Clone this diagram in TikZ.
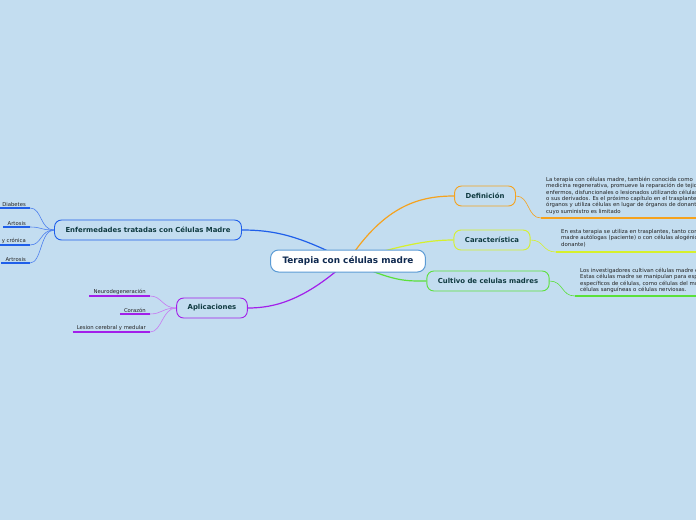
\documentclass[tikz,border=0pt]{standalone}
\usepackage{fontspec}
\setmainfont{DejaVu Sans}
\usepackage{xcolor}
\usetikzlibrary{positioning, backgrounds}

\definecolor{bgblue}{HTML}{C3DDF0}
\definecolor{mainline}{HTML}{5B9BD5}
\definecolor{maintext}{HTML}{102A50}
\definecolor{branchtext}{HTML}{0F3A40}
\definecolor{leaftext}{HTML}{222222}
\definecolor{deforange}{HTML}{F5A21E}
\definecolor{caryellow}{HTML}{D6F02C}
\definecolor{culgreen}{HTML}{5BE03A}
\definecolor{enfblue}{HTML}{1F5FEA}
\definecolor{aplpurple}{HTML}{A21FEA}

\begin{document}
\begin{tikzpicture}[
  x=1pt, y=-1pt,
  topic/.style={draw=mainline, line width=1pt, fill=white, rounded corners=8pt,
                minimum height=22pt, inner xsep=12pt, text=maintext,
                font=\fontsize{8.9}{10}\selectfont\bfseries},
  branch/.style={draw=#1, line width=0.9pt, fill=bgblue, rounded corners=7pt,
                 minimum height=20pt, inner xsep=11pt, text=branchtext,
                 font=\fontsize{6.9}{8}\selectfont\bfseries},
  leaf/.style={inner xsep=4pt, inner ysep=1.5pt, text=leaftext,
               font=\fontsize{5.3}{6.3}\selectfont},
  note/.style={inner sep=0pt, align=left, text=leaftext, anchor=north west,
               font=\fontsize{5.4}{6.3}\selectfont},
  link/.style={draw=#1, line width=1.2pt},
  twig/.style={draw=#1, line width=0.6pt},
  uline/.style={draw=#1, line width=1.5pt}
]
  \useasboundingbox (0,0) rectangle (696,520);
  \clip (0,0) rectangle (696,520);

  % Central topic
  \node[topic] (main) at (348,261) {Terapia con células madre};

  % Right branches
  \node[branch=deforange] (def) at (485,196) {Definición};
  \node[branch=caryellow] (car) at (492,240) {Característica};
  \node[branch=culgreen] (cul) at (488,281) {Cultivo de celulas madres};

  % Left branches
  \node[branch=enfblue] (enf) at (148,230) {Enfermedades tratadas con Células Madre};
  \node[branch=aplpurple] (apl) at (212,308) {Aplicaciones};

  % Notes
  \node[note] (defnote) at (546,177) {La terapia con células madre, también conocida como\\
    medicina regenerativa, promueve la reparación de tejidos\\
    enfermos, disfuncionales o lesionados utilizando células madre\\
    o sus derivados. Es el próximo capítulo en el trasplante de\\
    órganos y utiliza células en lugar de órganos de donantes\\
    cuyo suministro es limitado};
  \node[note] (carnote) at (561,229) {En esta terapia se utiliza en trasplantes, tanto con células\\
    madre autólogas (paciente) o con células alogénicas (de un\\
    donante)};
  \node[note] (culnote) at (580,268) {Los investigadores cultivan células madre en el laboratorio.\\
    Estas células madre se manipulan para especializarse en tipos\\
    específicos de células, como células del músculo cardíaco,\\
    células sanguíneas o células nerviosas.};
  \coordinate (defu) at (541,218);
  \coordinate (caru) at (556,252);
  \coordinate (culu) at (575,296);

  % Leaves of Enfermedades
  \node[leaf, anchor=south east] (dia) at (30,208) {Diabetes};
  \node[leaf, anchor=south east] (art) at (30,227) {Artosis};
  \node[leaf, anchor=south east] (leu) at (30,245) {Leucemia aguda y crónica};
  \node[leaf, anchor=south east] (atr) at (30,263) {Artrosis};

  % Leaves of Aplicaciones
  \node[leaf, anchor=south east] (neu) at (150,296) {Neurodegeneración};
  \node[leaf, anchor=south east] (cor) at (150,314) {Corazón};
  \node[leaf, anchor=south east] (les) at (150,332) {Lesion cerebral y medular};

  \begin{scope}[on background layer]
    \fill[bgblue] (0,0) rectangle (696,520);
    % main links
    \draw[link=enfblue] (main.center) .. controls (300,236) and (275,230) .. (enf.east);
    \draw[link=aplpurple] (main.center) .. controls (305,300) and (275,308) .. (apl.east);
    \draw[link=deforange] (main.center) .. controls (385,205) and (420,196) .. (def.west);
    \draw[link=caryellow] (main.center) .. controls (400,246) and (425,240) .. (car.west);
    \draw[link=culgreen] (main.center) .. controls (395,282) and (405,281) .. (cul.west);
    % twigs right
    \draw[twig=deforange] (def.east) .. controls +(14,0) and +(-14,0) .. (defu);
    \draw[uline=deforange] (defu) -- ++(170,0);
    \draw[twig=caryellow] (car.east) .. controls +(14,0) and +(-14,0) .. (caru);
    \draw[uline=caryellow] (caru) -- ++(170,0);
    \draw[twig=culgreen] (cul.east) .. controls +(14,0) and +(-14,0) .. (culu);
    \draw[uline=culgreen] (culu) -- ++(170,0);
    % twigs left
    \foreach \lf in {dia, art, leu, atr} {
      \draw[twig=enfblue!80] (enf.west) .. controls +(-14,0) and +(12,0) .. (\lf.south east);
      \draw[uline=enfblue] (\lf.south west) -- (\lf.south east);
    }
    \foreach \lf in {neu, cor, les} {
      \draw[twig=aplpurple!60] (apl.west) .. controls +(-14,0) and +(12,0) .. (\lf.south east);
      \draw[uline=aplpurple] (\lf.south west) -- (\lf.south east);
    }
  \end{scope}
\end{tikzpicture}
\end{document}
